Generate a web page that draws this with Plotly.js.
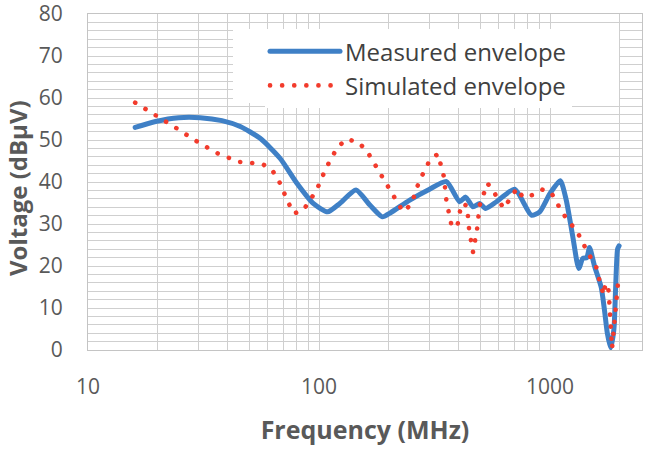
<!DOCTYPE html>
<html>
<head>
<meta charset="utf-8">
<script src="https://cdn.plot.ly/plotly-3.0.1.min.js"></script>
<style>
  html, body { margin: 0; padding: 0; background: #fff; }
  #chart { width: 655px; height: 449px; }
  /* round caps turn the tiny dash segments into dots */
  .js-line { stroke-linecap: round; }
</style>
</head>
<body>
<div id="chart"></div>
<script>
// Measured envelope (MHz, dBµV)
const measuredFreq = [16, 19.6, 24.7, 30.6, 38, 45.6, 55.6, 67.9, 80.2, 94.4, 109, 123, 144.5, 166, 188, 203,
  247, 301, 356, 406, 431, 464, 496, 526, 586, 703, 830, 902, 1000, 1107, 1175, 1254, 1331, 1386, 1442,
  1482, 1557, 1664, 1720, 1770, 1830, 1890, 1920, 1960, 1990];
const measuredV = [53, 54.4, 55.3, 55.3, 54.6, 53.2, 50.4, 45.6, 39.7, 34.9, 32.9, 34.9, 38.1, 34.5, 31.7, 32.6,
  35.7, 38.3, 40.1, 35.3, 36.4, 34.1, 34.9, 33.7, 35.3, 38.3, 32.1, 32.9, 37.3, 40.3, 35.7, 27, 19.4, 21.8, 22,
  24.4, 20, 15, 9.5, 4, 0.5, 5, 14, 24, 24.8];

// Simulated envelope (MHz, dBµV)
const simulatedFreq = [16, 19.6, 24, 29.3, 36.1, 45, 56.9, 62.9, 67.1, 73.6, 77.9, 85.5, 97.7, 107.2, 119.9,
  131.7, 147.3, 160.7, 182, 206, 231, 251, 271, 301, 327, 347, 356, 374, 396, 413, 437, 446, 464, 483, 496,
  536, 570, 630, 719, 764, 838, 923, 1011, 1136, 1318, 1456, 1584, 1653, 1710, 1737, 1790, 1805, 1820, 1835,
  1845, 1855, 1875, 1900, 1920, 1944, 1960, 1983];
const simulatedV = [58.9, 56, 52.9, 49.8, 46.9, 44.8, 44.3, 42.7, 40.2, 35.1, 32.5, 33.3, 38.1, 43.3, 48.2,
  50.2, 49.5, 47.5, 42.6, 37.7, 32.9, 34.7, 40.1, 45.1, 46.7, 41.3, 35.5, 29.8, 29.2, 34.8, 34.4, 28.8, 23.3,
  28.7, 34.5, 39.7, 37.7, 33.7, 38.5, 36.3, 36.9, 38.2, 37.5, 32.5, 27.9, 23.2, 19.8, 15.5, 13.1, 15.9, 14.3,
  11.5, 8.3, 5.5, 3.2, 0.4, 3.2, 6.4, 9.1, 11.9, 14.8, 17.9];

// Axis ticks and titles
const xTickVals = [10, 100, 1000];
const xTickText = ['10', '100', '1000'];
const yTickVals = [0, 10, 20, 30, 40, 50, 60, 70, 80];
const xTitle = 'Frequency (MHz)';
const yTitle = 'Voltage (dBµV)';

const textColor = '#595959';
const gridColor = '#cfcfcf';

const traces = [
  {
    x: measuredFreq, y: measuredV, name: 'Measured envelope',
    type: 'scatter', mode: 'lines',
    line: { color: '#3f80c6', width: 5, shape: 'spline', smoothing: 0.6 }
  },
  {
    x: simulatedFreq, y: simulatedV, name: 'Simulated envelope',
    type: 'scatter', mode: 'lines',
    line: { color: '#f23b2c', width: 4.6, dash: '0.1px,12px' }
  }
];

const layout = {
  width: 655, height: 449,
  margin: { l: 88, r: 13, t: 14, b: 99 },
  paper_bgcolor: '#fff', plot_bgcolor: '#fff',
  font: { family: 'Open Sans, sans-serif', color: textColor },
  showlegend: true,
  legend: {
    x: 0.3195, xanchor: 'left', y: 0.955, yanchor: 'top',
    bgcolor: '#fff', borderwidth: 0,
    font: { size: 24, color: '#404040' },
    itemwidth: 70
  },
  // white panel behind the legend entries
  shapes: [{
    type: 'rect', xref: 'paper', yref: 'paper',
    x0: 0.2617, x1: 0.9585, y0: 0.735, y1: 0.955,
    fillcolor: '#fff', line: { width: 0 }, layer: 'above'
  }],
  // vertical axis title, set close to the left edge
  annotations: [{
    text: yTitle, xref: 'paper', yref: 'paper',
    x: -0.1282, y: 0.482, xanchor: 'center', yanchor: 'middle',
    textangle: -90, showarrow: false,
    font: { size: 24, color: textColor, weight: 'bold' }
  }],
  xaxis: {
    type: 'log', range: [1, Math.log10(2500)],
    tickvals: xTickVals, ticktext: xTickText,
    tickfont: { size: 21, color: textColor },
    ticks: '', ticklabelstandoff: 18,
    showgrid: true, gridcolor: gridColor, gridwidth: 1,
    minor: { dtick: 'D1', showgrid: true, gridcolor: gridColor, gridwidth: 1 },
    showline: true, linecolor: '#c4c4c4', mirror: true, zeroline: false,
    title: { text: xTitle, font: { size: 25, color: textColor, weight: 'bold' }, standoff: 22 }
  },
  yaxis: {
    range: [0, 80], tickvals: yTickVals,
    tickfont: { size: 21, color: textColor },
    ticks: '', ticklabelstandoff: 20, ticklabeloverflow: 'allow',
    showgrid: true, gridcolor: gridColor, gridwidth: 1,
    minor: { dtick: 2, showgrid: true, gridcolor: gridColor, gridwidth: 1 },
    showline: true, linecolor: '#c4c4c4', mirror: true, zeroline: false
  }
};

Plotly.newPlot('chart', traces, layout, { displayModeBar: false, staticPlot: true });
</script>
</body>
</html>
